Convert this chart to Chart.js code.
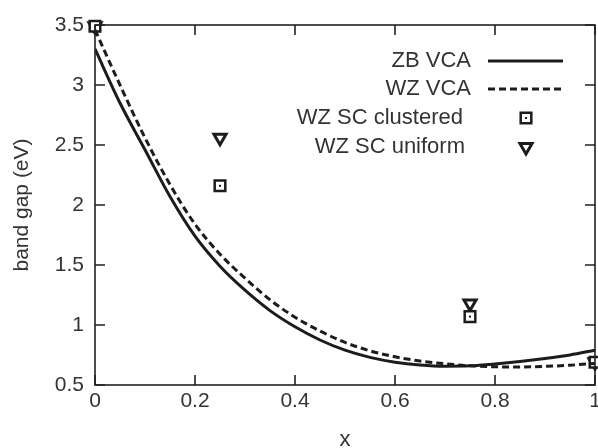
<!DOCTYPE html>
<html>
<head>
<meta charset="utf-8">
<script src="https://cdn.jsdelivr.net/npm/chart.js@4.4.0/dist/chart.umd.min.js"></script>
<style>
  html, body { margin: 0; padding: 0; background: #fff; overflow: hidden; }
  #wrap { width: 605px; height: 448px; }
</style>
</head>
<body>
<div id="wrap"><canvas id="gapChart"></canvas></div>
<script>
// composition x and band gaps (eV)
const xs = [0, 0.05, 0.1, 0.15, 0.2, 0.25, 0.3, 0.35, 0.4, 0.45, 0.5,
            0.55, 0.6, 0.65, 0.7, 0.75, 0.8, 0.85, 0.9, 0.95, 1];
const zbVca = [3.30, 2.85, 2.46, 2.07, 1.74, 1.49, 1.29, 1.12, 0.985, 0.875, 0.79,
               0.73, 0.69, 0.667, 0.657, 0.66, 0.675, 0.695, 0.72, 0.75, 0.79];
const wzVca = [3.46, 3.00, 2.56, 2.17, 1.84, 1.59, 1.39, 1.21, 1.065, 0.95, 0.855,
               0.785, 0.735, 0.70, 0.677, 0.66, 0.652, 0.65, 0.655, 0.665, 0.68];

const scX = [0, 0.25, 0.75, 1];
const scClustered = [3.49, 2.16, 1.07, 0.69];
const scUniform = [3.49, 2.56, 1.18, 0.69];

const xTicks = [0, 0.2, 0.4, 0.6, 0.8, 1];
const yTicks = [0.5, 1, 1.5, 2, 2.5, 3, 3.5];

const INK = '#1c1c1c';
const TXT = '#333';
const FONT = '"Liberation Sans", Arial, sans-serif';

const toPts = (x, y) => x.map((v, i) => ({ x: v, y: y[i] }));

// frame with inward ticks on all four sides
const framePlugin = {
    id: 'frame',
    afterDraw(chart) {
        const { ctx, chartArea: a, scales } = chart;
        ctx.save();
        ctx.strokeStyle = '#222';
        ctx.lineWidth = 1.6;
        ctx.strokeRect(a.left, a.top, a.right - a.left, a.bottom - a.top);
        const len = 10;
        ctx.beginPath();
        xTicks.forEach(v => {
            const px = scales.x.getPixelForValue(v);
            ctx.moveTo(px, a.bottom); ctx.lineTo(px, a.bottom - len);
            ctx.moveTo(px, a.top); ctx.lineTo(px, a.top + len);
        });
        yTicks.forEach(v => {
            const py = scales.y.getPixelForValue(v);
            ctx.moveTo(a.left, py); ctx.lineTo(a.left + len, py);
            ctx.moveTo(a.right, py); ctx.lineTo(a.right - len, py);
        });
        ctx.stroke();
        // small dot in the middle of each open square
        ctx.fillStyle = INK;
        scX.forEach((v, i) => {
            if (i === 0 || i === scX.length - 1) return;
            ctx.fillRect(scales.x.getPixelForValue(v) - 1, scales.y.getPixelForValue(scClustered[i]) - 1, 2, 2);
        });
        ctx.restore();
    }
};

function drawMarker(ctx, style, x, y) {
    ctx.save();
    ctx.strokeStyle = INK;
    ctx.fillStyle = '#fff';
    if (style === 'rect') {
        const s = 5.3;
        ctx.lineWidth = 2.5;
        ctx.beginPath();
        ctx.rect(x - s, y - s, 2 * s, 2 * s);
        ctx.fill(); ctx.stroke();
        ctx.fillStyle = INK;
        ctx.fillRect(x - 1, y - 1, 2, 2);
    } else {
        const r = 7;
        ctx.lineWidth = 3;
        ctx.beginPath();
        ctx.moveTo(x, y + r);
        ctx.lineTo(x - r * 0.866, y - r / 2);
        ctx.lineTo(x + r * 0.866, y - r / 2);
        ctx.closePath();
        ctx.fill(); ctx.stroke();
    }
    ctx.restore();
}

// gnuplot style key: text right aligned, sample on the right
const keyPlugin = {
    id: 'key',
    afterDraw(chart) {
        const { ctx } = chart;
        const rows = [61, 89, 118, 147];
        const textRight = [471, 471, 463, 465];
        const lineL = 488, lineR = 563, markX = 526;
        ctx.save();
        ctx.font = '22px ' + FONT;
        ctx.fillStyle = TXT;
        ctx.textAlign = 'right';
        ctx.textBaseline = 'middle';
        chart.data.datasets.forEach((ds, i) => {
            const y = rows[i];
            ctx.fillText(ds.label, textRight[i], y);
            if (ds.showLine) {
                ctx.save();
                ctx.strokeStyle = INK;
                ctx.lineWidth = 3;
                ctx.setLineDash(ds.borderDash || []);
                ctx.beginPath();
                ctx.moveTo(lineL, y); ctx.lineTo(lineR, y);
                ctx.stroke();
                ctx.restore();
            } else {
                drawMarker(ctx, ds.pointStyle, markX, y);
            }
        });
        ctx.restore();
    }
};

new Chart(document.getElementById('gapChart'), {
    type: 'scatter',
    data: {
        datasets: [
            {
                label: 'ZB VCA', data: toPts(xs, zbVca), showLine: true,
                borderColor: INK, borderWidth: 3, pointRadius: 0,
                cubicInterpolationMode: 'monotone'
            },
            {
                label: 'WZ VCA', data: toPts(xs, wzVca), showLine: true,
                borderColor: INK, borderWidth: 3, borderDash: [7, 4], pointRadius: 0,
                cubicInterpolationMode: 'monotone'
            },
            {
                label: 'WZ SC clustered', data: toPts(scX, scClustered), showLine: false,
                pointStyle: 'rect', pointRadius: 7.5, borderWidth: 2.5,
                borderColor: INK, backgroundColor: '#fff', clip: false
            },
            {
                label: 'WZ SC uniform', data: toPts(scX, scUniform), showLine: false,
                pointStyle: 'triangle', rotation: 180, pointRadius: 7, borderWidth: 3,
                borderColor: INK, backgroundColor: '#fff', clip: false
            }
        ]
    },
    options: {
        responsive: true,
        maintainAspectRatio: false,
        animation: false,
        layout: { padding: { top: 25, right: 0, left: 0, bottom: 0 } },
        plugins: { legend: { display: false }, tooltip: { enabled: false } },
        scales: {
            x: {
                type: 'linear', min: 0, max: 1,
                afterBuildTicks: s => { s.ticks = xTicks.map(v => ({ value: v })); },
                afterFit: s => { s.height = 63; },
                grid: { display: false, drawTicks: false, tickLength: 0 },
                border: { display: false },
                ticks: { color: TXT, font: { family: FONT, size: 21 }, padding: 4,
                         maxRotation: 0, callback: v => String(v) },
                title: { display: true, text: 'x', color: TXT,
                         font: { family: FONT, size: 22, lineHeight: 1 },
                         padding: { top: 0, bottom: -3 } }
            },
            y: {
                type: 'linear', min: 0.5, max: 3.5,
                afterBuildTicks: s => { s.ticks = yTicks.map(v => ({ value: v })); },
                afterFit: s => { s.width = 95; },
                grid: { display: false, drawTicks: false, tickLength: 0 },
                border: { display: false },
                ticks: { color: TXT, font: { family: FONT, size: 21 }, padding: 11,
                         callback: v => String(v) },
                title: { display: true, text: 'band gap (eV)', color: TXT,
                         font: { family: FONT, size: 21 }, padding: { top: 10, bottom: 0 } }
            }
        }
    },
    plugins: [framePlugin, keyPlugin]
});
</script>
</body>
</html>
